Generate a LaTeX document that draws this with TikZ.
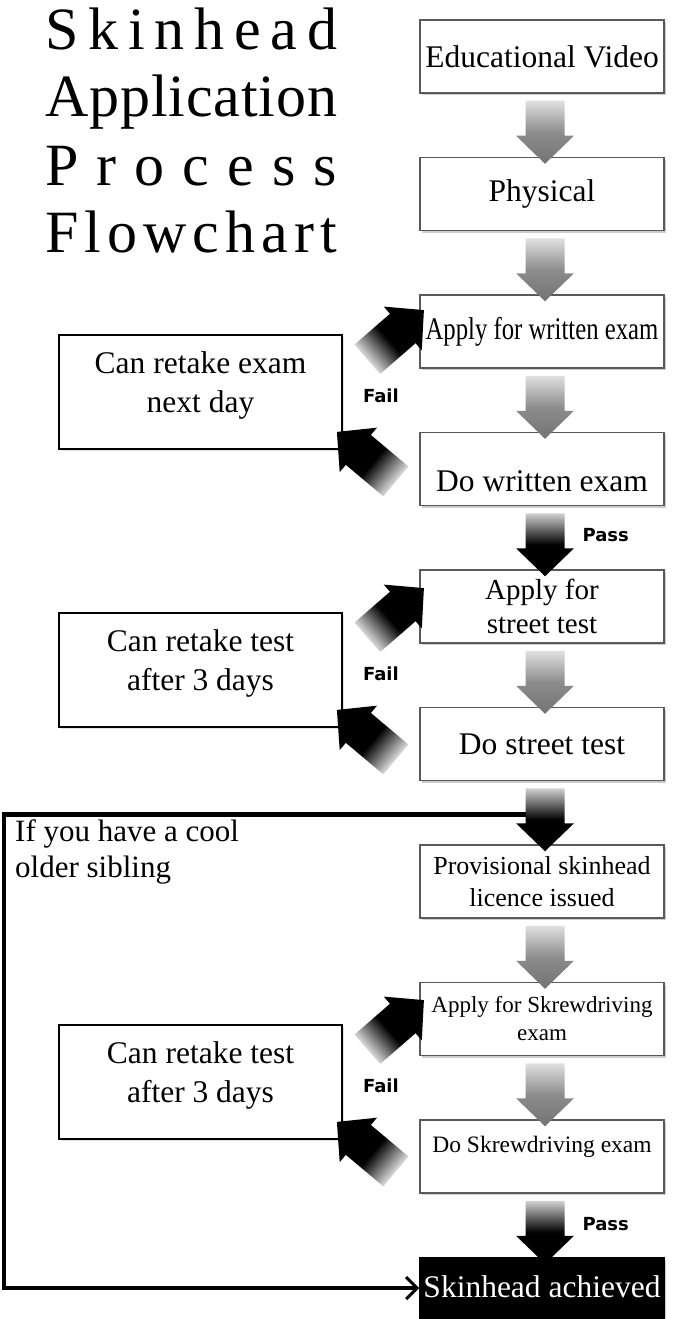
\documentclass[tikz,border=0pt]{standalone}
\usepackage{fontspec}
\usepackage{graphicx}
\setmainfont{Liberation Serif}
\newfontfamily\tagfont{DejaVu Sans}
\usetikzlibrary{positioning,calc,shadows,arrows.meta}

\newcommand{\fsize}[2]{\fontsize{#1pt}{#2pt}\selectfont}

% fat arrow from the foot of one box to the head of the next
\newcommand{\blockdown}[3][grayarrow]{%
  \path[#1] let \p1=($(#2.south)+(3,7)$), \p2=($(#3.north)+(3,7)$) in
    (\x1-19.5pt,\y1) -- (\x1+19.5pt,\y1) -- (\x1+19.5pt,\y2+28pt) -- (\x1+29pt,\y2+28pt)
    -- (\x1,\y2) -- (\x1-29pt,\y2+28pt) -- (\x1-19.5pt,\y2+28pt) -- cycle;}

% tilted fail arrow: tip, angle, length
\newcommand{\failarrow}[3]{%
  \pgfmathsetmacro\shadeang{#2-90}
  \begin{scope}[shift={(#1)},rotate=#2]
    \path[failshade,shading angle=\shadeang] (-#3pt,-19.5pt) -- (-28pt,-19.5pt) -- (-28pt,-29pt) -- (0pt,0pt)
      -- (-28pt,29pt) -- (-28pt,19.5pt) -- (-#3pt,19.5pt) -- cycle;
  \end{scope}}

\begin{document}
\begin{tikzpicture}[x=1pt,y=-1pt,
    stepbox/.style={draw=black!65,line width=1.5pt,fill=white,minimum width=244pt,
      minimum height=73pt,inner sep=0pt,align=center,font=\fsize{31.5}{36},
      drop shadow={shadow xshift=2pt,shadow yshift=-2pt,fill=black!50,opacity=.4}},
    retakebox/.style={draw=black,line width=1.8pt,fill=white,minimum width=283pt,
      minimum height=114pt,align=center,font=\fsize{31.5}{38.5},text depth=20pt,
      drop shadow={shadow xshift=1.5pt,shadow yshift=-1.5pt,fill=black!40,opacity=.3}},
    title/.style={font=\fsize{60}{66},inner sep=0pt,anchor=base west},
    flowtag/.style={font=\tagfont\bfseries\fsize{18}{21},inner sep=0pt},
    grayarrow/.style={top color=black!12,bottom color=black!55,middle color=black!45},
    blackarrow/.style={top color=black!18,bottom color=black,middle color=black},
    failshade/.style={top color=black,bottom color=white,middle color=black},
    sibline/.style={line width=4.5pt,-{Straight Barb[length=11pt,width=22pt,line width=3pt]}}]

  \path[use as bounding box,fill=white] (0,0) rectangle (684,1319);

  % title
  \node (tskin) [title] at (45,50) {\makebox[292pt][s]{S\hfil k\hfil i\hfil n\hfil h\hfil e\hfil a\hfil d}};
  \node (tappl) [title] at (45,117) {\makebox[292pt][s]{A\hfil p\hfil p\hfil l\hfil i\hfil c\hfil a\hfil t\hfil i\hfil o\hfil n}};
  \node (tproc) [title] at (45,185) {\makebox[292pt][s]{P\hfil r\hfil o\hfil c\hfil e\hfil s\hfil s}};
  \node (tflow) [title] at (45,252) {\makebox[292pt][s]{F\hfil l\hfil o\hfil w\hfil c\hfil h\hfil a\hfil r\hfil t}};

  % main column
  \node (edu) [stepbox] at (542,56.5) {Educational Video};
  \node (phys) [stepbox,below=63pt of edu] {Physical};
  \node (applyw) [stepbox,below=63pt of phys] {\scalebox{0.785}[1]{Apply for written exam}};
  \node (dow) [stepbox,below=63pt of applyw,text height=45pt] {Do written exam};
  \node (applys) [stepbox,below=63pt of dow,font=\fsize{29}{34}] {Apply for\\street test};
  \node (dos) [stepbox,below=63pt of applys] {Do street test};
  \node (prov) [stepbox,below=63pt of dos,font=\fsize{26}{32}] {Provisional skinhead\\licence issued};
  \node (applysk) [stepbox,below=63pt of prov,font=\fsize{23}{28}] {Apply for Skrewdriving\\exam};
  \node (dosk) [stepbox,below=63pt of applysk,font=\fsize{23.5}{28},text depth=25pt] {Do Skrewdriving exam};
  \node (achieved) [stepbox,below=63pt of dosk,fill=black,draw=black,text=white,text depth=15pt] {Skinhead achieved};

  % retake boxes
  \node (retakeA) [retakebox] at (200.5,392) {Can retake exam\\next day};
  \node (retakeB) [retakebox] at (200.5,670) {Can retake test\\after 3 days};
  \node (retakeC) [retakebox] at (200.5,1082) {Can retake test\\after 3 days};

  % shortcut for a cool older sibling
  \coordinate (join) at ($(dos.south)+(3,33)$);
  \coordinate (rail) at (4,0);
  \draw[sibline] (join) -- (join -| rail) |- ($(achieved.west)+(0,-6)$);
  \node (sibtext) [anchor=north west,align=left,inner sep=0pt,font=\fsize{31}{36}] at (15,819) {If you have a cool\\older sibling};

  % arrows down the column
  \blockdown{edu}{phys}
  \blockdown{phys}{applyw}
  \blockdown{applyw}{dow}
  \blockdown[blackarrow]{dow}{applys}
  \blockdown{applys}{dos}
  \blockdown[blackarrow]{dos}{prov}
  \blockdown{prov}{applysk}
  \blockdown{applysk}{dosk}
  \blockdown[blackarrow]{dosk}{achieved}

  \node (passA) [flowtag] at ($(dow.south east)+(-59,29)$) {Pass};
  \node (passB) [flowtag] at ($(dosk.south east)+(-59,30)$) {Pass};

  % fail loops
  \foreach \r in {A,B,C} {
    \coordinate (in\r) at ($(retake\r.north east)+(81,-24)$);
    \coordinate (back\r) at ($(retake\r.south east)+(-6,-18)$);
    \failarrow{in\r}{41}{75}
    \failarrow{back\r}{140}{77}
    \node (fail\r) [flowtag] at ($(retake\r.east)+(38,4)$) {Fail};
  }
\end{tikzpicture}
\end{document}
